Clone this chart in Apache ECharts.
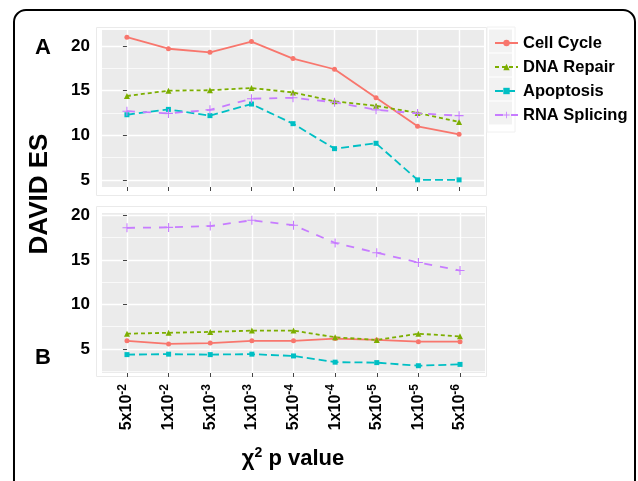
<!DOCTYPE html>
<html><head><meta charset="utf-8">
<script src="https://cdn.jsdelivr.net/npm/echarts@6/dist/echarts.min.js"></script>
<style>html,body{margin:0;padding:0;background:#fff}#c{width:638px;height:481px}</style>
</head><body><div id="c"></div>
<script>
// ---- data ----
const tickMantissa = ['5','1','5','1','5','1','5','1','5'];
const tickExponent = ['-2','-2','-3','-3','-4','-4','-5','-5','-6'];
const seriesNames = ['Cell Cycle','DNA Repair','Apoptosis','RNA Splicing'];
const panelA_cellCycle   = [21.0,19.7,19.3,20.5,18.6,17.4,14.2,11.0,10.1];
const panelA_dnaRepair   = [14.4,15.0,15.05,15.3,14.8,13.8,13.3,12.5,11.5];
const panelA_apoptosis   = [12.3,12.9,12.2,13.5,11.3,8.5,9.1,5.0,5.0];
const panelA_rnaSplicing = [12.7,12.45,12.85,14.1,14.2,13.7,12.85,12.45,12.2];
const panelB_cellCycle   = [5.9,5.55,5.65,5.9,5.9,6.15,6.0,5.8,5.8];
const panelB_dnaRepair   = [6.7,6.8,6.9,7.05,7.05,6.3,6.0,6.7,6.4];
const panelB_apoptosis   = [4.35,4.4,4.35,4.4,4.2,3.5,3.45,3.1,3.25];
const panelB_rnaSplicing = [18.6,18.65,18.8,19.45,18.9,16.9,15.8,14.7,13.8];
const yMajorTicks = [5,10,15,20];
const yMinorTicks = [2.5,7.5,12.5,17.5];

// ---- styles ----
const FONT = '"Liberation Sans", Arial, Helvetica, sans-serif';
const colors = ['#F8766D','#7CAE00','#00BFC4','#C77CFF'];
const dashes = ['solid',[4,3],[8,4],[8,8]];
const plusPath = 'path://M4.4,0h1.2v4.4h4.4v1.2h-4.4v4.4h-1.2v-4.4h-4.4v-1.2h4.4z';
const symbols = ['circle','triangle','rect',plusPath];
const symSizes = [5,6,5,9];

const panelA = [panelA_cellCycle,panelA_dnaRepair,panelA_apoptosis,panelA_rnaSplicing];
const panelB = [panelB_cellCycle,panelB_dnaRepair,panelB_apoptosis,panelB_rnaSplicing];
const xIdx = tickMantissa.map((_, i) => i);

function limits(arrs) {
  const all = [].concat(...arrs);
  const mn = Math.min(...all), mx = Math.max(...all), r = mx - mn;
  return [mn - 0.05 * r, mx + 0.05 * r];
}
const limA = limits(panelA), limB = limits(panelB);
const n = tickMantissa.length;

function xAxis(gi, showLabels) {
  return {
    type: 'value', gridIndex: gi, min: -0.6, max: n - 1 + 0.6,
    axisLine: {show: false},
    axisTick: {show: true, customValues: xIdx, length: 4, lineStyle: {color: '#444', width: 1}},
    axisLabel: {
      show: showLabels, customValues: xIdx, rotate: 90, margin: 11,
      formatter: v => '{b|' + tickMantissa[v] + 'x10}{s|' + tickExponent[v] + '}',
      rich: {
        b: {fontSize: 16, fontWeight: 'bold', color: '#000', fontFamily: FONT, lineHeight: 20},
        s: {fontSize: 12, fontWeight: 'bold', color: '#000', fontFamily: FONT, lineHeight: 11, verticalAlign: 'top'}
      }
    },
    splitLine: {show: true, lineStyle: {color: '#fff', width: 1.4}}
  };
}
function yMajor(gi, lim) {
  return {
    type: 'value', gridIndex: gi, min: lim[0], max: lim[1],
    axisLine: {show: false},
    axisTick: {show: true, customValues: yMajorTicks, length: 4, lineStyle: {color: '#444', width: 1}},
    axisLabel: {customValues: yMajorTicks, margin: 12, fontSize: 17, fontWeight: 'bold', color: '#000', fontFamily: FONT},
    splitLine: {show: true, lineStyle: {color: '#fff', width: 1.4}}
  };
}
function yMinor(gi, lim) {
  return {
    type: 'value', gridIndex: gi, min: lim[0], max: lim[1], position: 'left',
    axisLine: {show: false},
    axisTick: {show: false, customValues: yMinorTicks},
    axisLabel: {show: false},
    splitLine: {show: true, lineStyle: {color: '#fff', width: 0.7}}
  };
}

const series = [];
[panelA, panelB].forEach((panel, p) => {
  panel.forEach((vals, k) => {
    series.push({
      name: seriesNames[k], type: 'line',
      xAxisIndex: p, yAxisIndex: p * 2,
      data: vals.map((v, i) => [i, v]),
      symbol: symbols[k], symbolSize: symSizes[k], showSymbol: true,
      lineStyle: {color: colors[k], width: 1.8, type: dashes[k]},
      itemStyle: {color: colors[k]},
      z: 3
    });
  });
});

const graphics = [
  {type: 'rect', shape: {x: 14, y: 10, width: 621, height: 500, r: 12}, style: {fill: 'none', stroke: '#000', lineWidth: 2}, z: 10},
  {type: 'rect', shape: {x: 96.5, y: 27.5, width: 390, height: 168}, style: {fill: 'none', stroke: '#EAEAEA', lineWidth: 1}},
  {type: 'rect', shape: {x: 96.5, y: 206.5, width: 390, height: 170}, style: {fill: 'none', stroke: '#EAEAEA', lineWidth: 1}},
  {type: 'rect', shape: {x: 487, y: 27, width: 28, height: 105}, style: {fill: 'none', stroke: '#F0F0F0', lineWidth: 1}},
  {type: 'text', x: 43, y: 48, style: {text: 'A', fontSize: 22, fontWeight: 'bold', fontFamily: FONT, fill: '#000', align: 'center', verticalAlign: 'middle'}},
  {type: 'text', x: 43, y: 358, style: {text: 'B', fontSize: 22, fontWeight: 'bold', fontFamily: FONT, fill: '#000', align: 'center', verticalAlign: 'middle'}},
  {type: 'text', x: 40, y: 194, rotation: Math.PI / 2, style: {text: 'DAVID ES', fontSize: 26, fontWeight: 'bold', fontFamily: FONT, fill: '#000', align: 'center', verticalAlign: 'middle'}},
  {type: 'text', x: 293, y: 459, style: {
    text: '{t|χ}{s|2}{t| p value}', align: 'center', verticalAlign: 'middle',
    rich: {
      t: {fontSize: 22, fontWeight: 'bold', fontFamily: FONT, fill: '#000', lineHeight: 26},
      s: {fontSize: 14, fontWeight: 'bold', fontFamily: FONT, fill: '#000', lineHeight: 14, verticalAlign: 'top'}
    }}}
];
seriesNames.forEach((_, k) => {
  graphics.push({type: 'rect', shape: {x: 489, y: 29.5 + 24 * k, width: 23, height: 23}, style: {fill: '#F2F2F2'}, z: 0});
});

const chart = echarts.init(document.getElementById('c'), null, {renderer: 'canvas'});
chart.setOption({
  animation: false,
  backgroundColor: '#fff',
  grid: [
    {left: 102, top: 30, width: 382, height: 157, show: true, backgroundColor: '#EBEBEB', borderWidth: 0},
    {left: 102, top: 213, width: 383, height: 160, show: true, backgroundColor: '#EBEBEB', borderWidth: 0}
  ],
  xAxis: [xAxis(0, false), xAxis(1, true)],
  yAxis: [yMajor(0, limA), yMinor(0, limA), yMajor(1, limB), yMinor(1, limB)],
  legend: {
    data: seriesNames, orient: 'vertical', left: 489, top: 26,
    itemWidth: 23, itemHeight: 8, itemGap: 0, selectedMode: false, z: 5,
    textStyle: {fontSize: 16.5, fontWeight: 'bold', color: '#000', fontFamily: FONT, lineHeight: 24, padding: [0, 0, 0, 0]}
  },
  graphic: graphics,
  series: series
});
</script></body></html>
